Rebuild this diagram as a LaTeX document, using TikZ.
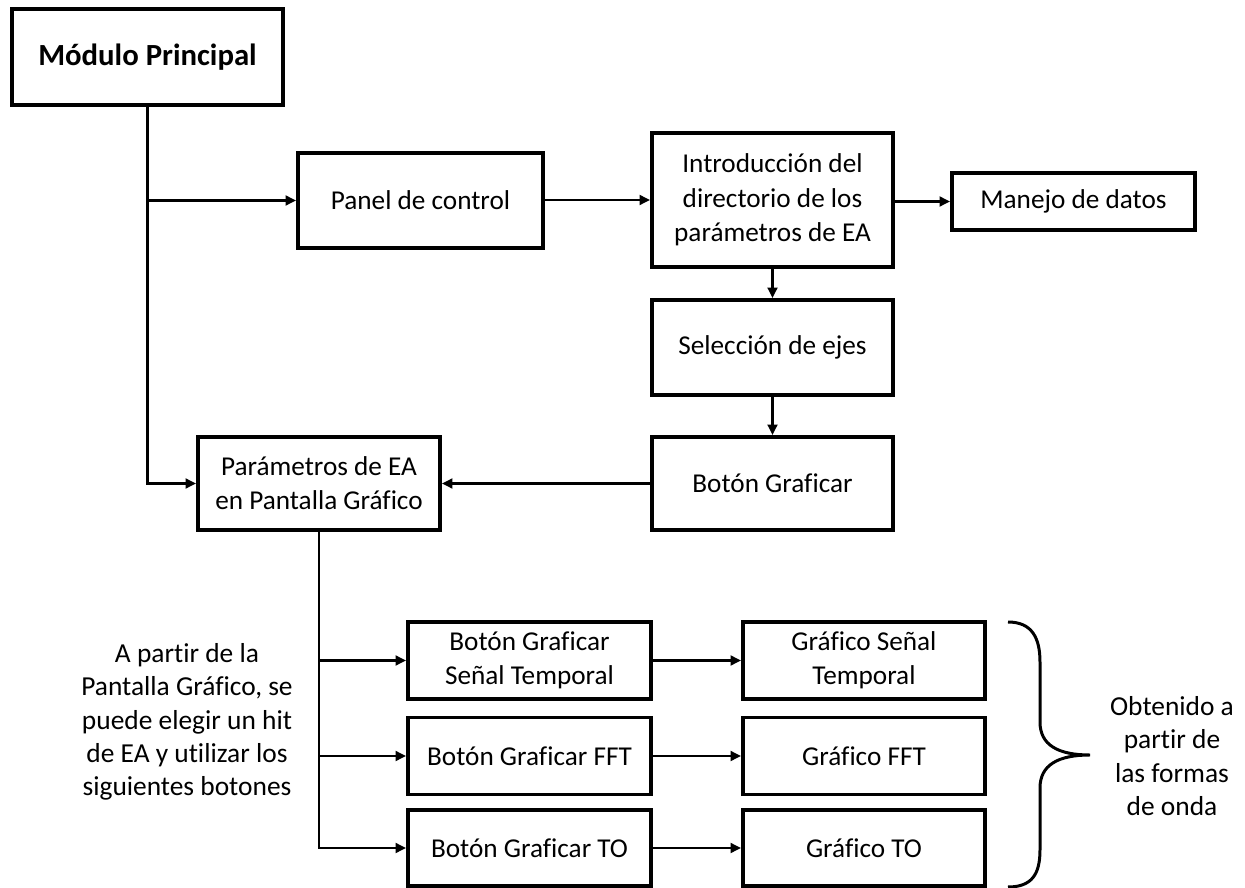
\documentclass[tikz,border=0pt]{standalone}
\usepackage{fontspec}
\setmainfont{Carlito}[Ligatures=NoCommon]
\usetikzlibrary{arrows.meta}

\begin{document}
\begin{tikzpicture}[x=0.02cm,y=-0.02cm,box/.style={draw=black,line width=2.2pt,fill=white,inner sep=2pt,align=center,font=\fontsize{15.5}{19.5}\selectfont},a/.style={-{Triangle[length=6pt,width=5.5pt]},line width=1.7pt,draw=black},txt/.style={align=center,font=\fontsize{15.6}{19}\selectfont}]
\useasboundingbox (0,0) rectangle (1245,888);
% upper part
\node[box,minimum width=5.42cm,minimum height=1.92cm,font=\fontsize{17.5}{21}\selectfont\bfseries] (main) at (147.5,57) {Módulo Principal};
\node[box,minimum width=4.9cm,minimum height=1.9cm] (panel) at (420.5,200.5) {Panel de control};
\node[box,minimum width=4.82cm,minimum height=2.68cm] (intro) at (772.5,200) {Introducción del\\directorio de los\\parámetros de EA};
\node[box,minimum width=4.86cm,minimum height=1.14cm] (manejo) at (1073.5,201.5) {Manejo de datos};
\node[box,minimum width=4.82cm,minimum height=1.9cm] (ejes) at (772.5,347.5) {Selección de ejes};
\node[box,minimum width=4.82cm,minimum height=1.86cm] (graficar) at (772.5,483.5) {Botón Graficar};
\node[box,minimum width=4.84cm,minimum height=1.86cm] (pantalla) at (319,483.5) {Parámetros de EA\\en Pantalla Gráfico};
% botones y graficos
\node[box,minimum width=4.86cm,minimum height=1.54cm] (bsenal) at (529.5,660.5) {Botón Graficar\\Señal Temporal};
\node[box,minimum width=4.86cm,minimum height=1.54cm] (bfft) at (529.5,756) {Botón Graficar FFT};
\node[box,minimum width=4.86cm,minimum height=1.52cm] (bto) at (529.5,848) {Botón Graficar TO};
\node[box,minimum width=4.84cm,minimum height=1.54cm] (gsenal) at (864,660.5) {Gráfico Señal\\Temporal};
\node[box,minimum width=4.84cm,minimum height=1.54cm] (gfft) at (864,756) {Gráfico FFT};
\node[box,minimum width=4.84cm,minimum height=1.52cm] (gto) at (864,848) {Gráfico TO};
\node[txt] (nota) at (187,722) {A partir de la\\Pantalla Gráfico, se\\puede elegir un hit\\de EA y utilizar los\\siguientes botones};
\node[txt] (onda) at (1172,756) {Obtenido a\\partir de\\las formas\\de onda};
% conexiones
\draw[a] (main.south) |- (pantalla.west);
\draw[a] (main.south |- panel.west) -- (panel.west);
\draw[a] (panel.east |- intro.west) -- (intro.west);
\draw[a] (intro.east |- manejo.west) -- (manejo.west);
\draw[a] (intro.south) -- (ejes.north);
\draw[a] (ejes.south) -- (graficar.north);
\draw[a] (graficar.west) -- (pantalla.east);
\draw[a] (pantalla.south) |- (bto.west);
\draw[a] (pantalla.south |- bsenal.west) -- (bsenal.west);
\draw[a] (pantalla.south |- bfft.west) -- (bfft.west);
\draw[a] (bsenal) -- (gsenal);
\draw[a] (bfft) -- (gfft);
\draw[a] (bto) -- (gto);
% llave
\draw[line width=1.7pt] (1008,622) .. controls (1032,622) and (1040,638) .. (1040,662) -- (1040,722)
  .. controls (1040,745) and (1058,755) .. (1090,755)
  .. controls (1058,755) and (1040,765) .. (1040,788) -- (1040,850)
  .. controls (1040,874) and (1032,887) .. (1008,887);
\end{tikzpicture}
\end{document}
